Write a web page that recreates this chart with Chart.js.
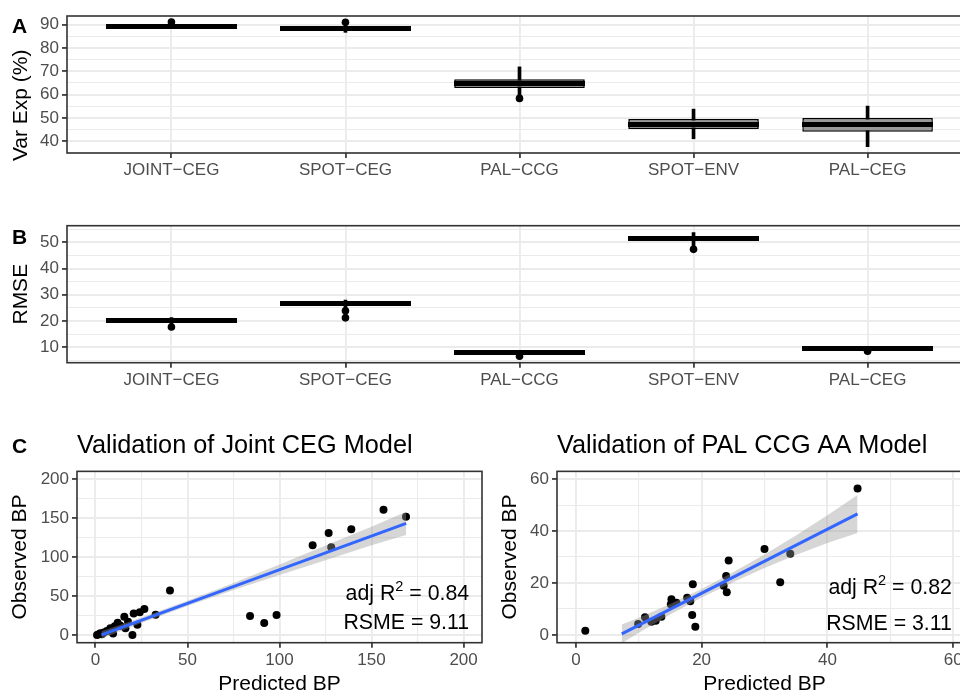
<!DOCTYPE html>
<html><head><meta charset="utf-8">
<script src="https://cdn.jsdelivr.net/npm/chart.js@4.4.0/dist/chart.umd.min.js"></script>
<style>
html,body{margin:0;padding:0;background:#fff;overflow:hidden;width:960px;height:691px;position:relative}
canvas{position:absolute}
.lab{position:absolute;font:bold 21px "Liberation Sans",Arial,sans-serif;line-height:21px;color:#000}
</style></head><body>
<canvas id="cA" width="976" height="190" style="left:0;top:0"></canvas>
<canvas id="cB" width="976" height="210" style="left:0;top:190px"></canvas>
<canvas id="cC1" width="486" height="280" style="left:0;top:420px"></canvas>
<canvas id="cC2" width="494" height="280" style="left:482px;top:420px"></canvas>
<div class="lab" style="left:12px;top:15px">A</div>
<div class="lab" style="left:12px;top:226px">B</div>
<div class="lab" style="left:12px;top:435px">C</div>
<script>
// ---------- DATA ----------
const categories = ['JOINT\u2212CEG', 'SPOT\u2212CEG', 'PAL\u2212CCG', 'SPOT\u2212ENV', 'PAL\u2212CEG'];

// Panel A: Var Exp (%)
const varExpQ1 = [88.8, 87.9, 62.9, 45.3, 44.1];
const varExpMedian = [89.2, 88.3, 64.8, 47.1, 47.1];
const varExpQ3 = [89.6, 88.7, 66.6, 49.6, 50.0];
const varExpWhiskerLow = [88.6, 86.7, 58.4, 41.1, 37.7];
const varExpWhiskerHigh = [91.1, 91.0, 71.9, 53.8, 55.1];
const varExpPointCat = [1, 2, 3];
const varExpPointVal = [91.1, 91.0, 58.4];
const varExpMajorTicks = [40, 50, 60, 70, 80, 90];
const varExpMinorTicks = [35, 45, 55, 65, 75, 85];

// Panel B: RMSE
const rmseQ1 = [20.0, 26.3, 7.8, 51.1, 9.4];
const rmseMedian = [20.3, 26.6, 8.1, 51.4, 9.6];
const rmseQ3 = [20.6, 27.0, 8.4, 51.8, 9.9];
const rmseWhiskerLow = [17.7, 21.2, 6.6, 47.3, 8.5];
const rmseWhiskerHigh = [21.3, 28.0, 8.4, 53.7, 9.9];
const rmsePointCat = [1, 2, 2, 3, 4, 5];
const rmsePointVal = [17.7, 23.9, 21.2, 6.6, 47.3, 8.5];
const rmseMajorTicks = [10, 20, 30, 40, 50];
const rmseMinorTicks = [5, 15, 25, 35, 45, 55];

// Panel C left: Joint CEG validation
const jointPred = [168.7,156.5,139.0,126.7,128.1,118.0,40.5,84.0,91.7,98.4,32.7,26.6,24.1,20.8,15.7,22.8,20.1,12.1,16.3,8.1,9.6,2.7,0.9,4.5,13.6,17.7,1.8,3.5,6.2,10.5];
const jointObs  = [151.8,160.7,135.6,131.0,112.6,115.2,57.0,24.2,15.3,25.5,25.9,33.2,29.0,27.6,23.4,13.1,0.0,15.7,8.5,8.5,1.7,2.1,0.0,3.0,11.9,17.0,0.8,1.0,5.0,11.0];
const jointFitX = [3.3, 168.8];
const jointFitY = [0.0, 143.3];
const jointBandX = [3.3, 25, 50, 75, 100, 125, 150, 168.8];
const jointBandLow = [-4.8, 15.4, 37.0, 57.6, 77.0, 96.0, 115.0, 128.4];
const jointBandHigh = [4.8, 22.3, 43.8, 66.6, 90.4, 114.8, 139.0, 158.2];
const jointMajorTicks = [0, 50, 100, 150, 200];
const jointMinorTicks = [25, 75, 125, 175];

// Panel C right: PAL CCG AA validation
const palPred = [44.8,1.5,30.0,34.1,32.5,24.3,23.9,23.5,24.0,18.6,18.5,19.0,18.2,17.7,15.2,16.0,15.1,13.6,12.7,12.0,11.0,9.9];
const palObs  = [56.4,1.6,33.1,31.3,20.3,28.7,22.7,18.9,16.4,19.5,7.7,3.1,13.0,14.3,13.7,12.4,11.8,7.0,5.5,5.1,6.8,4.2];
const palFitX = [7.3, 44.8];
const palFitY = [0.4, 46.6];
const palBandX = [7.3, 10, 15, 20, 25, 30, 35, 40, 44.8];
const palBandLow = [-3.2, 0.8, 7.9, 14.4, 20.3, 25.8, 30.8, 35.4, 39.3];
const palBandHigh = [4.0, 6.6, 11.9, 17.7, 24.1, 31.0, 38.3, 46.1, 53.9];
const palMajorTicks = [0, 20, 40, 60];
const palMinorTicks = [10, 30, 50];

// ---------- HELPERS ----------
const FONT = '"Liberation Sans", Arial, Helvetica, sans-serif';
const GRID = '#EBEBEB';
const DARK = '#333333';

// median bar glyph (a thick horizontal stroke used as point style)
const medianGlyph = document.createElement('canvas');
medianGlyph.width = 131; medianGlyph.height = 5;
(function(){ const g = medianGlyph.getContext('2d'); g.fillStyle = '#000'; g.fillRect(0, 0, 131, 5); })();

const borderPlugin = {
  id: 'panelBorder',
  afterDatasetsDraw(chart) {
    const {ctx, chartArea: a} = chart;
    ctx.save();
    ctx.strokeStyle = DARK;
    ctx.lineWidth = 1.6;
    ctx.strokeRect(a.left, a.top, a.right - a.left, a.bottom - a.top);
    ctx.restore();
  }
};

function sideTitle(text, x, y) {
  return {
    id: 'sideTitle',
    afterDraw(chart) {
      const ctx = chart.ctx;
      ctx.save();
      ctx.translate(x, y);
      ctx.rotate(-Math.PI / 2);
      ctx.font = '21px ' + FONT;
      ctx.fillStyle = '#000';
      ctx.textAlign = 'center';
      ctx.textBaseline = 'middle';
      ctx.fillText(text, 0, 0);
      ctx.restore();
    }
  };
}

function numScale(pos, min, max, major, minor, title, size, titlePad, tickPad) {
  const all = major.concat(minor).sort((a, b) => a - b);
  const s = {
    type: 'linear', position: pos, min: min, max: max,
    afterBuildTicks: sc => { sc.ticks = all.map(v => ({value: v})); },
    border: {display: false},
    grid: {
      offset: false,
      color: GRID,
      lineWidth: c => (c.tick && major.includes(c.tick.value)) ? 1.9 : 1.1,
      tickColor: c => (c.tick && major.includes(c.tick.value)) ? DARK : 'rgba(0,0,0,0)',
      tickWidth: 1.7, tickLength: 5, drawTicks: true
    },
    ticks: {autoSkip: false, maxRotation: 0, padding: tickPad, color: '#4D4D4D',
      font: {family: FONT, size: 17},
      callback: v => major.includes(v) ? String(v) : ''},
    title: {display: !!title, text: title || '', color: '#000', font: {family: FONT, size: 21},
      padding: pos === 'left' ? {top: titlePad, bottom: 0} : {top: 0, bottom: titlePad}}
  };
  if (pos === 'left') s.afterFit = sc => { sc.width = size; };
  else s.afterFit = sc => { sc.height = size; };
  return s;
}

function catScale(height) {
  return {
    type: 'linear', position: 'bottom', min: 0.4, max: 5.6, offset: false,
    afterBuildTicks: sc => { sc.ticks = categories.map((c, i) => ({value: i + 1})); },
    afterFit: sc => { sc.height = height; },
    border: {display: false},
    grid: {offset: false, color: GRID, lineWidth: 1.9, tickColor: DARK, tickWidth: 1.7, tickLength: 5},
    ticks: {autoSkip: false, maxRotation: 0, padding: 2, color: '#4D4D4D',
      font: {family: FONT, size: 17}, callback: v => categories[v - 1]}
  };
}

function boxDatasets(q1, med, q3, wl, wh, pc, pv) {
  return [
    {type: 'scatter', data: pc.map((c, i) => ({x: c, y: pv[i]})),
      pointRadius: 3.8, backgroundColor: '#000', borderWidth: 0},
    {type: 'scatter', data: categories.map((c, i) => ({x: i + 1, y: med[i]})),
      pointStyle: medianGlyph, pointRadius: 1, pointHoverRadius: 1, borderWidth: 0},
    {type: 'bar', data: categories.map((c, i) => ({x: i + 1, y: [q1[i], q3[i]]})),
      backgroundColor: '#999999', borderColor: '#000', borderWidth: 1.5, borderSkipped: false,
      grouped: false, barPercentage: 0.75, categoryPercentage: 1},
    {type: 'bar', data: categories.map((c, i) => ({x: i + 1, y: [wl[i], wh[i]]})),
      backgroundColor: '#000', borderWidth: 0, barThickness: 3, grouped: false}
  ];
}

const baseOpts = {
  responsive: false, animation: false, devicePixelRatio: 1, events: [],
  plugins: {legend: {display: false}, tooltip: {enabled: false}}
};

// ---------- PANEL A ----------
new Chart(document.getElementById('cA'), {
  type: 'bar',
  data: {datasets: boxDatasets(varExpQ1, varExpMedian, varExpQ3, varExpWhiskerLow, varExpWhiskerHigh, varExpPointCat, varExpPointVal)},
  options: Object.assign({}, baseOpts, {
    layout: {padding: {top: 16, left: 0, right: 0, bottom: 0}},
    scales: {
      x: catScale(37),
      y: numScale('left', 35.0, 93.7, varExpMajorTicks, varExpMinorTicks, null, 67, 8.4, 3)
    }
  }),
  plugins: [borderPlugin, sideTitle('Var Exp (%)', 21, 105.3)]
});

// ---------- PANEL B ----------
new Chart(document.getElementById('cB'), {
  type: 'bar',
  data: {datasets: boxDatasets(rmseQ1, rmseMedian, rmseQ3, rmseWhiskerLow, rmseWhiskerHigh, rmsePointCat, rmsePointVal)},
  options: Object.assign({}, baseOpts, {
    layout: {padding: {top: 35.7, left: 0, right: 0, bottom: 0}},
    scales: {
      x: catScale(37.3),
      y: numScale('left', 4.13, 56.3, rmseMajorTicks, rmseMinorTicks, 'RMSE', 67, 8.2, 3)
    }
  }),
  plugins: [borderPlugin]
});

// ---------- PANEL C ----------
function annotPlugin(r2txt, rsmeTxt, xv, yAdj, yRsme) {
  return {
    id: 'annot',
    afterDatasetsDraw(chart) {
      const ctx = chart.ctx, xs = chart.scales.x, ys = chart.scales.y;
      const xr = xs.getPixelForValue(xv);
      ctx.save();
      ctx.fillStyle = '#000';
      ctx.textBaseline = 'alphabetic';
      ctx.textAlign = 'left';
      const big = '21.3px ' + FONT, small = '14.5px ' + FONT;
      const p1 = 'adj R', p2 = '2', p3 = ' = ' + r2txt;
      ctx.font = big; const w1 = ctx.measureText(p1).width, w3 = ctx.measureText(p3).width;
      ctx.font = small; const w2 = ctx.measureText(p2).width;
      let x = xr - (w1 + w2 + w3);
      const yb = ys.getPixelForValue(yAdj);
      ctx.font = big; ctx.fillText(p1, x, yb); x += w1;
      ctx.font = small; ctx.fillText(p2, x, yb - 9); x += w2;
      ctx.font = big; ctx.fillText(p3, x, yb);
      ctx.textAlign = 'right';
      ctx.fillText('RSME = ' + rsmeTxt, xr, ys.getPixelForValue(yRsme));
      ctx.restore();
    }
  };
}

function scatterConfig(title, pred, obs, fx, fy, bx, bl, bh, min, max, major, minor, yw, ytPad, annot) {
  return {
    type: 'scatter',
    data: {datasets: [
      {type: 'line', data: fx.map((v, i) => ({x: v, y: fy[i]})), borderColor: '#3366FF',
        borderWidth: 3, pointRadius: 0, fill: false},
      {type: 'line', data: bx.map((v, i) => ({x: v, y: bl[i]})), borderWidth: 0,
        borderColor: 'rgba(0,0,0,0)', pointRadius: 0, fill: false},
      {type: 'line', data: bx.map((v, i) => ({x: v, y: bh[i]})), borderWidth: 0,
        borderColor: 'rgba(0,0,0,0)', pointRadius: 0, fill: '-1',
        backgroundColor: 'rgba(153,153,153,0.4)'},
      {type: 'scatter', data: pred.map((v, i) => ({x: v, y: obs[i]})), pointRadius: 4,
        pointHoverRadius: 4, backgroundColor: '#000', borderWidth: 0}
    ]},
    options: Object.assign({}, baseOpts, {
      layout: {padding: {top: 0, left: 0, right: 0, bottom: 0}},
      plugins: {legend: {display: false}, tooltip: {enabled: false},
        title: {display: true, text: title, align: 'start', fullSize: false, color: '#000',
          font: {family: FONT, size: 25.3, weight: 'normal'}, padding: {top: 10.5, bottom: 10.5}}},
      scales: {
        x: numScale('bottom', min, max, major, minor, 'Predicted BP', 57.3, 3.1, 2),
        y: numScale('left', min, max, major, minor, 'Observed BP', yw, ytPad, 3)
      }
    }),
    plugins: [borderPlugin, annot]
  };
}

new Chart(document.getElementById('cC1'), scatterConfig('Validation of Joint CEG Model',
  jointPred, jointObs, jointFitX, jointFitY, jointBandX, jointBandLow, jointBandHigh,
  -10, 210, jointMajorTicks, jointMinorTicks, 77, 7.4,
  annotPlugin('0.84', '9.11', 203, 45.2, 8.2)));

new Chart(document.getElementById('cC2'), scatterConfig('Validation of PAL CCG AA Model',
  palPred, palObs, palFitX, palFitY, palBandX, palBandLow, palBandHigh,
  -3, 63, palMajorTicks, palMinorTicks, 75, 15.9,
  annotPlugin('0.82', '3.11', 59.8, 15.9, 1.8)));
</script>
</body></html>
